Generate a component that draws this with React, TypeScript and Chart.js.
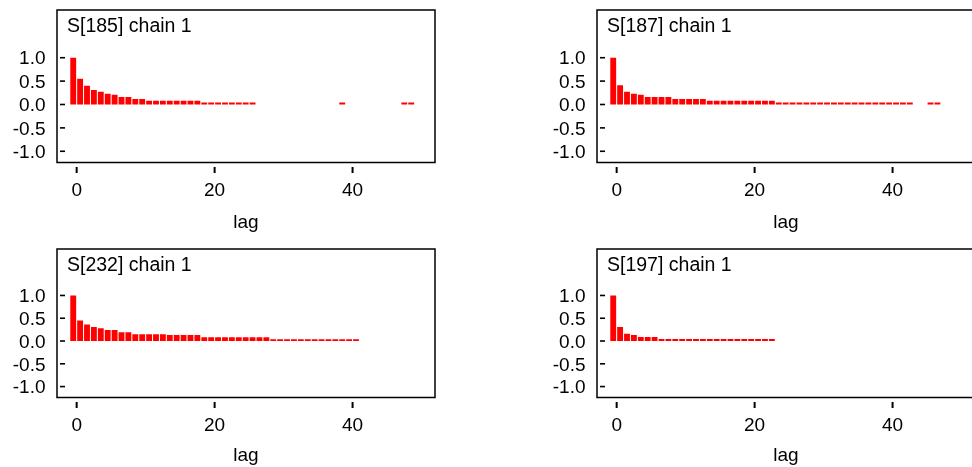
import React, { useEffect, useRef } from "react";
import { Chart, registerables } from "chart.js";

Chart.register(...registerables);

// ---- data ----
const lags = [
  0, 1, 2, 3, 4, 5, 6, 7, 8, 9, 10, 11, 12, 13, 14, 15, 16, 17, 18, 19, 20, 21, 22, 23, 24,
  25, 26, 27, 28, 29, 30, 31, 32, 33, 34, 35, 36, 37, 38, 39, 40, 41, 42, 43, 44, 45, 46, 47, 48, 49,
];

const titles = ["S[185] chain 1", "S[187] chain 1", "S[232] chain 1", "S[197] chain 1"];

const acf185 = [
  1.0, 0.55, 0.4, 0.31, 0.27, 0.23, 0.21, 0.16, 0.16, 0.12, 0.12,
  0.08, 0.08, 0.08, 0.08, 0.08, 0.08, 0.08, 0.08,
  0.04, 0.04, 0.04, 0.04, 0.04, 0.04, 0.04, 0.04,
  0, 0, 0, 0, 0, 0, 0, 0, 0, 0, 0, 0,
  0.04,
  0, 0, 0, 0, 0, 0, 0, 0,
  0.04, 0.04,
];

const acf187 = [
  1.0, 0.41, 0.27, 0.23, 0.21,
  0.16, 0.16, 0.16, 0.16,
  0.12, 0.12, 0.12, 0.12, 0.12,
  0.08, 0.08, 0.08, 0.08, 0.08, 0.08, 0.08, 0.08, 0.08, 0.08,
  0.04, 0.04, 0.04, 0.04, 0.04, 0.04, 0.04, 0.04, 0.04, 0.04,
  0.04, 0.04, 0.04, 0.04, 0.04, 0.04, 0.04, 0.04, 0.04, 0.04,
  0, 0,
  0.04, 0.04,
  0, 0,
];

const acf232 = [
  1.0, 0.45, 0.36, 0.31, 0.28, 0.24, 0.24, 0.19, 0.19,
  0.15, 0.15, 0.15, 0.15, 0.15,
  0.13, 0.13, 0.13, 0.13, 0.13,
  0.08, 0.08, 0.08, 0.08, 0.08, 0.08, 0.08, 0.08, 0.08, 0.08,
  0.04, 0.04, 0.04, 0.04, 0.04, 0.04, 0.04, 0.04, 0.04, 0.04, 0.04, 0.04, 0.04,
  0, 0, 0, 0, 0, 0, 0, 0,
];

const acf197 = [
  1.0, 0.31, 0.16, 0.13, 0.09, 0.09, 0.09,
  0.045, 0.045, 0.045, 0.045, 0.045, 0.045, 0.045, 0.045, 0.045,
  0.045, 0.045, 0.045, 0.045, 0.045, 0.045, 0.045, 0.045,
  0, 0, 0, 0, 0, 0, 0, 0, 0, 0, 0, 0, 0, 0, 0, 0, 0, 0, 0, 0, 0, 0, 0, 0, 0, 0,
];

const yTicks = [-1, -0.5, 0, 0.5, 1];
const xTicks = [0, 20, 40];
const xLabel = "lag";

const FONT = "'Liberation Sans', Arial, Helvetica, sans-serif";

type PanelProps = {
  title: string;
  values: number[];
  left: number;
  top: number;
  height: number;
  xAxisHeight: number;
  lagPad: number;
};

function Panel({ title, values, left, top, height, xAxisHeight, lagPad }: PanelProps) {
  const ref = useRef<HTMLCanvasElement>(null);

  useEffect(() => {
    const canvas = ref.current;
    if (!canvas) return;

    const framePlugin = {
      id: "frameAndTitle",
      afterDraw(chart: any) {
        const { ctx, chartArea: a, scales } = chart;
        ctx.save();
        ctx.strokeStyle = "#000";
        ctx.lineWidth = 1.5;
        ctx.strokeRect(a.left, a.top, a.right - a.left, a.bottom - a.top);
        ctx.lineWidth = 1.6;
        yTicks.forEach((v) => {
          const y = scales.y.getPixelForValue(v);
          ctx.beginPath();
          ctx.moveTo(a.left + 3, y);
          ctx.lineTo(a.left + 8, y);
          ctx.stroke();
        });
        ctx.lineWidth = 2;
        xTicks.forEach((v) => {
          const x = scales.x.getPixelForValue(v);
          ctx.beginPath();
          ctx.moveTo(x, a.bottom + 4.5);
          ctx.lineTo(x, a.bottom + 10.5);
          ctx.stroke();
        });
        ctx.fillStyle = "#000";
        ctx.font = `19.5px ${FONT}`;
        ctx.textAlign = "left";
        ctx.textBaseline = "alphabetic";
        ctx.fillText(title, a.left + 10, a.top + 22);
        ctx.restore();
      },
    };

    const chart = new Chart(canvas, {
      type: "bar",
      data: {
        datasets: [
          {
            data: values.map((v, i) => ({ x: lags[i] - 0.5, y: v })),
            backgroundColor: "#ff0000",
            borderWidth: 0,
            barPercentage: 0.85,
            categoryPercentage: 1,
          },
        ],
      },
      options: {
        responsive: false,
        animation: false,
        layout: { padding: { left: 0, right: 51, top: 10, bottom: 0 } },
        plugins: {
          legend: { display: false },
          tooltip: { enabled: false },
          title: { display: false },
        },
        scales: {
          x: {
            type: "linear",
            min: -2.85,
            max: 51.95,
            offset: false,
            grid: { display: false, drawTicks: false, offset: false },
            border: { display: false },
            afterBuildTicks: (scale: any) => {
              scale.ticks = xTicks.map((v) => ({ value: v }));
            },
            afterFit: (scale: any) => {
              scale.height = xAxisHeight;
              scale.paddingLeft = 0;
              scale.paddingRight = 0;
              scale.paddingTop = 0;
              scale.paddingBottom = 0;
            },
            ticks: {
              padding: 16.5,
              color: "#000",
              font: { family: FONT, size: 19 },
              maxRotation: 0,
              autoSkip: false,
              callback: (v: any) => String(v),
            },
            title: {
              display: true,
              text: xLabel,
              color: "#000",
              font: { family: FONT, size: 19, lineHeight: 1 },
              padding: { top: 0, bottom: lagPad },
            },
          },
          y: {
            type: "linear",
            min: -1.24,
            max: 2.02,
            grid: { display: false, drawTicks: false },
            border: { display: false },
            afterBuildTicks: (scale: any) => {
              scale.ticks = yTicks.map((v) => ({ value: v }));
            },
            afterFit: (scale: any) => {
              scale.width = 57;
              scale.paddingTop = 0;
              scale.paddingBottom = 0;
              scale.paddingLeft = 0;
              scale.paddingRight = 0;
            },
            ticks: {
              padding: 11.5,
              labelOffset: 1.5,
              color: "#000",
              font: { family: FONT, size: 19 },
              autoSkip: false,
              callback: (v: any) => Number(v).toFixed(1),
            },
          },
        },
      },
      plugins: [framePlugin],
    } as any);

    return () => chart.destroy();
  }, [title, values, xAxisHeight, lagPad]);

  return (
    <canvas
      ref={ref}
      width={486}
      height={height}
      style={{ position: "absolute", left, top, width: 486, height }}
    />
  );
}

export default function App() {
  return (
    <div
      style={{
        position: "absolute",
        left: 0,
        top: 0,
        width: 972,
        height: 467,
        overflow: "hidden",
        background: "#fff",
      }}
    >
      <Panel title={titles[0]} values={acf185} left={0} top={0} height={233} xAxisHeight={70.5} lagPad={0.5} />
      <Panel title={titles[1]} values={acf187} left={540} top={0} height={233} xAxisHeight={70.5} lagPad={0.5} />
      <Panel title={titles[2]} values={acf232} left={0} top={239} height={228} xAxisHeight={69.5} lagPad={1.5} />
      <Panel title={titles[3]} values={acf197} left={540} top={239} height={228} xAxisHeight={69.5} lagPad={1.5} />
    </div>
  );
}
